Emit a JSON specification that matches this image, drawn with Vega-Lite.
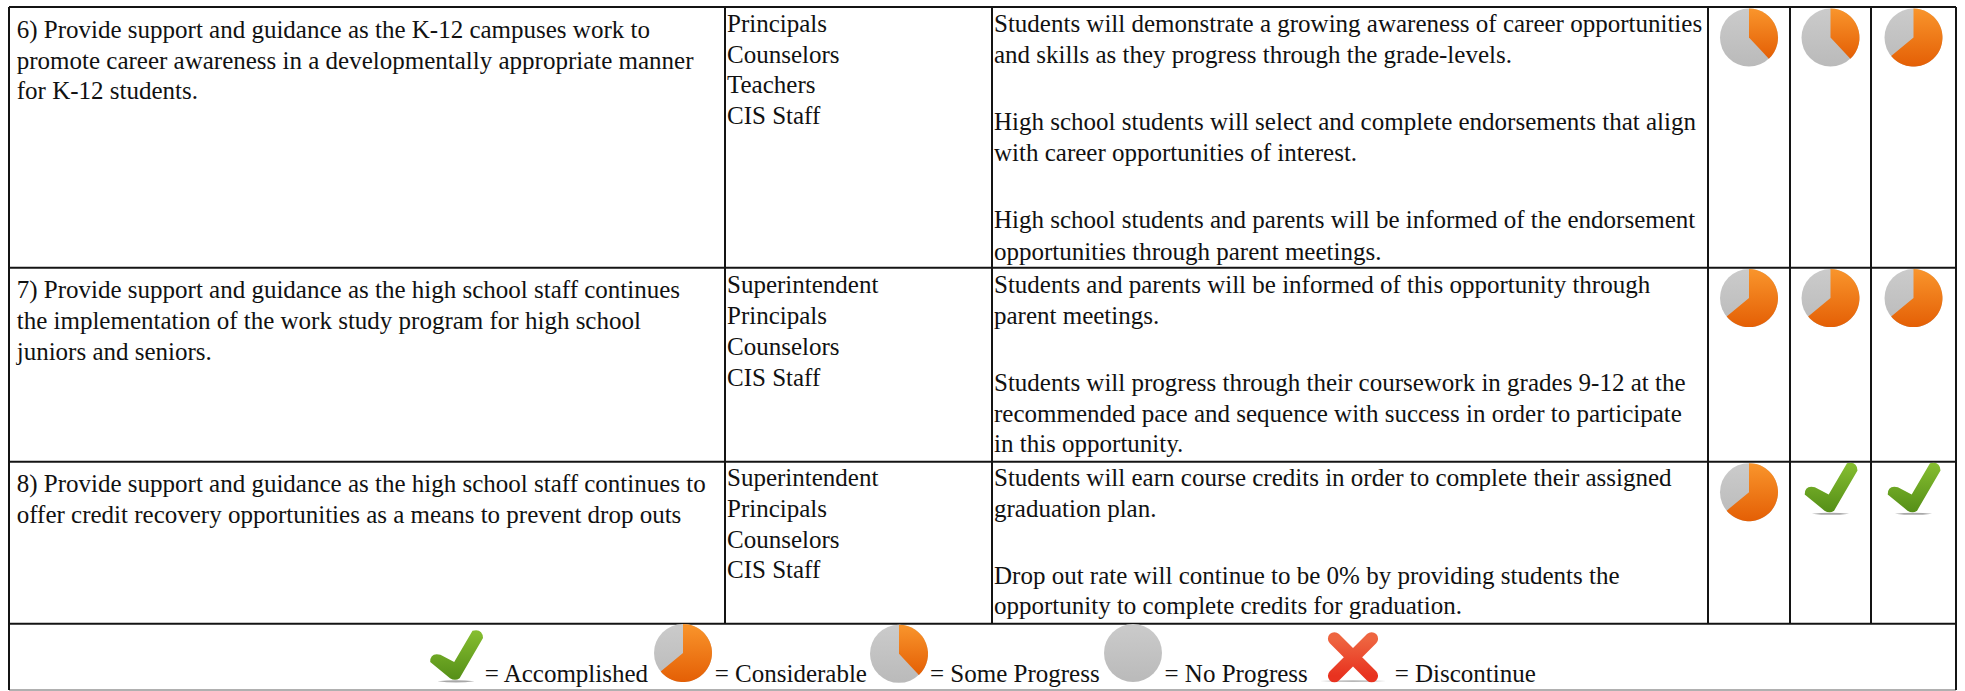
{"$schema":"https://vega.github.io/schema/vega-lite/v6.json","autosize":{"type":"fit","contains":"padding"},"width":1965,"height":691,"padding":0,"background":"white","config":{"view":{"stroke":null}},
"datasets":{
"rules":[
{"col":0,"col2":6,"line":-0.8,"line2":-0.8,"kind":"edge"},
{"col":0,"col2":6,"line":7.66,"line2":7.66,"kind":"edge"},
{"col":0,"col2":6,"line":13.96,"line2":13.96,"kind":"edge"},
{"col":0,"col2":6,"line":19.22,"line2":19.22,"kind":"edge"},
{"col":0,"col2":6,"line":21.37,"line2":21.37,"kind":"foot"},
{"col":0,"col2":0,"line":-0.8,"line2":21.37,"kind":"edge"},
{"col":1,"col2":1,"line":-0.8,"line2":19.22,"kind":"edge"},
{"col":2,"col2":2,"line":-0.8,"line2":19.22,"kind":"edge"},
{"col":3,"col2":3,"line":-0.8,"line2":19.22,"kind":"edge"},
{"col":4,"col2":4,"line":-0.8,"line2":19.22,"kind":"edge"},
{"col":5,"col2":5,"line":-0.8,"line2":19.22,"kind":"edge"},
{"col":6,"col2":6,"line":-0.8,"line2":21.37,"kind":"edge"}
],
"lines":[
{"col":0.008,"line":0.2,"text":"6) Provide support and guidance as the K-12 campuses work to"},
{"col":0.008,"line":1.2,"text":"promote career awareness in a developmentally appropriate manner"},
{"col":0.008,"line":2.2,"text":"for K-12 students."},
{"col":0.008,"line":8.66,"text":"7) Provide support and guidance as the high school staff continues"},
{"col":0.008,"line":9.66,"text":"the implementation of the work study program for high school"},
{"col":0.008,"line":10.66,"text":"juniors and seniors."},
{"col":0.008,"line":14.94,"text":"8) Provide support and guidance as the high school staff continues to"},
{"col":0.008,"line":15.96,"text":"offer credit recovery opportunities as a means to prevent drop outs"},
{"col":1,"line":0,"text":"Principals"},
{"col":1,"line":1,"text":"Counselors"},
{"col":1,"line":2,"text":"Teachers"},
{"col":1,"line":3,"text":"CIS Staff"},
{"col":1,"line":8.48,"text":"Superintendent"},
{"col":1,"line":9.5,"text":"Principals"},
{"col":1,"line":10.5,"text":"Counselors"},
{"col":1,"line":11.5,"text":"CIS Staff"},
{"col":1,"line":14.75,"text":"Superintendent"},
{"col":1,"line":15.75,"text":"Principals"},
{"col":1,"line":16.75,"text":"Counselors"},
{"col":1,"line":17.75,"text":"CIS Staff"},
{"col":2,"line":0,"text":"Students will demonstrate a growing awareness of career opportunities"},
{"col":2,"line":1,"text":"and skills as they progress through the grade-levels."},
{"col":2,"line":3.19,"text":"High school students will select and complete endorsements that align"},
{"col":2,"line":4.19,"text":"with career opportunities of interest."},
{"col":2,"line":6.37,"text":"High school students and parents will be informed of the endorsement"},
{"col":2,"line":7.41,"text":"opportunities through parent meetings."},
{"col":2,"line":8.48,"text":"Students and parents will be informed of this opportunity through"},
{"col":2,"line":9.49,"text":"parent meetings."},
{"col":2,"line":11.67,"text":"Students will progress through their coursework in grades 9-12 at the"},
{"col":2,"line":12.67,"text":"recommended pace and sequence with success in order to participate"},
{"col":2,"line":13.66,"text":"in this opportunity."},
{"col":2,"line":14.75,"text":"Students will earn course credits in order to complete their assigned"},
{"col":2,"line":15.75,"text":"graduation plan."},
{"col":2,"line":17.94,"text":"Drop out rate will continue to be 0% by providing students the"},
{"col":2,"line":18.9,"text":"opportunity to complete credits for graduation."},
{"col":11,"line":21.1,"text":"= Accomplished"},
{"col":13,"line":21.1,"text":"= Considerable"},
{"col":15,"line":21.1,"text":"= Some Progress"},
{"col":17,"line":21.1,"text":"= No Progress"},
{"col":19,"line":21.1,"text":"= Discontinue"}
],
"pies":[
{"col":3.5,"line":0.19,"status":"Some Progress","from":0,"share":0.38},
{"col":4.5,"line":0.19,"status":"Some Progress","from":0,"share":0.38},
{"col":5.5,"line":0.19,"status":"Considerable","from":0,"share":0.64},
{"col":3.5,"line":8.65,"status":"Considerable","from":0,"share":0.64},
{"col":4.5,"line":8.65,"status":"Considerable","from":0,"share":0.64},
{"col":5.5,"line":8.65,"status":"Considerable","from":0,"share":0.64},
{"col":3.5,"line":14.95,"status":"Considerable","from":0,"share":0.64},
{"col":12,"line":20.17,"status":"Considerable","from":0,"share":0.64},
{"col":14,"line":20.2,"status":"Some Progress","from":0,"share":0.38},
{"col":16,"line":20.17,"status":"No Progress","from":0,"share":0}
],
"checks":[
{"col":4.5,"line":14.83,"status":"Accomplished"},
{"col":5.5,"line":14.83,"status":"Accomplished"},
{"col":10,"line":20.27,"status":"Accomplished"}
],
"crosses":[
{"col":18,"line":20.31,"status":"Discontinue"}
]
},
"encoding":{
"x":{"field":"col","type":"quantitative","axis":null,"scale":{"domain":[0,1,2,3,4,5,6,10,11,12,13,14,15,16,17,18,19],"range":[9,725,992,1708,1790,1871,1956,456,482.7,683,712.7,899,928,1133,1162.5,1353,1392.7]}},
"y":{"field":"line","type":"quantitative","axis":null,"scale":{"domain":[0,20],"range":[31.7,647.7]}}
},
"layer":[
{"data":{"name":"rules"},"mark":{"type":"rule","strokeWidth":2},"encoding":{"x2":{"field":"col2"},"y2":{"field":"line2"},"color":{"field":"kind","type":"nominal","legend":null,"scale":{"domain":["edge","foot"],"range":["#141414","#b0b0b0"]}}}},
{"data":{"name":"lines"},"mark":{"type":"text","align":"left","baseline":"alphabetic","font":"Liberation Serif","fontSize":25,"dx":2,"color":"#111111"},"encoding":{"text":{"field":"text"}}},
{"data":{"name":"pies"},"mark":{"type":"arc","outerRadius":29,"innerRadius":0,"color":{"gradient":"linear","x1":0,"y1":0,"x2":0,"y2":1,"stops":[{"offset":0,"color":"#cbcbcb"},{"offset":1,"color":"#bababa"}]}},"encoding":{"theta":{"datum":0,"type":"quantitative","stack":null,"scale":{"domain":[0,1],"range":[0,6.2832]}},"theta2":{"datum":1}}},
{"data":{"name":"pies"},"transform":[{"filter":"datum.share > 0"}],"mark":{"type":"arc","outerRadius":29,"innerRadius":0,"color":{"gradient":"linear","x1":0,"y1":0,"x2":0,"y2":1,"stops":[{"offset":0,"color":"#f9952c"},{"offset":1,"color":"#e45f05"}]}},"encoding":{"theta":{"field":"from","type":"quantitative","stack":null,"scale":{"domain":[0,1],"range":[0,6.2832]}},"theta2":{"field":"share"}}},
{"data":{"name":"checks"},"mark":{"type":"point","filled":true,"opacity":1,"size":3600,"shape":"M-0.62,0.84 Q0,0.78 0.62,0.84 Q0,0.92 -0.62,0.84 Z","color":"#a8a8a8"}},
{"data":{"name":"checks"},"mark":{"type":"point","filled":true,"opacity":1,"size":3600,"shape":"M-0.86,0.2 L-0.2,0.74 Q-0.03,0.84 0.12,0.74 L0.9,-0.6 Q0.88,-0.92 0.55,-0.84 L-0.06,0.2 L-0.52,-0.04 Q-0.86,-0.12 -0.86,0.2 Z","color":{"gradient":"linear","x1":0,"y1":0,"x2":0,"y2":1,"stops":[{"offset":0,"color":"#86be30"},{"offset":1,"color":"#558f18"}]}}},
{"data":{"name":"crosses"},"mark":{"type":"point","filled":true,"opacity":1,"size":3600,"shape":"M-1.1,0.79 Q0,0.74 1.1,0.79 Q0,0.86 -1.1,0.79 Z","color":"#b8b8b8"}},
{"data":{"name":"crosses"},"mark":{"type":"point","filled":false,"opacity":1,"size":3600,"shape":"M-0.62,-0.62 L0.62,0.62 M0.62,-0.62 L-0.62,0.62","strokeWidth":13,"strokeCap":"round","color":{"gradient":"linear","x1":0,"y1":0,"x2":0,"y2":1,"stops":[{"offset":0,"color":"#ee6540"},{"offset":1,"color":"#e8321f"}]}}}
]}
